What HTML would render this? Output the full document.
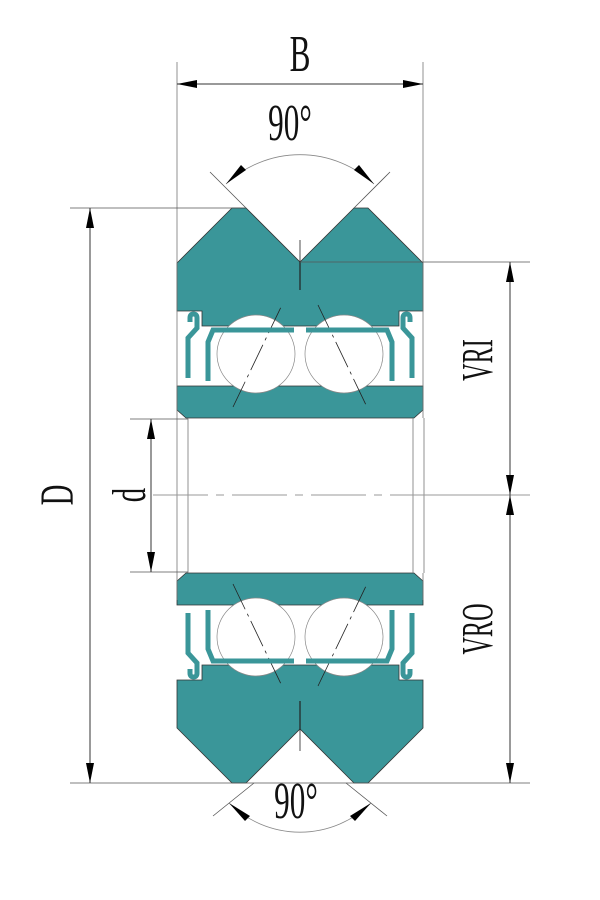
<!DOCTYPE html>
<html><head><meta charset="utf-8"><style>body{margin:0;background:#fff}svg{display:block}</style></head>
<body>
<svg width="600" height="900" viewBox="0 0 600 900" xmlns="http://www.w3.org/2000/svg">
<defs>
<marker id="a" viewBox="0 0 20 8" refX="20" refY="4" markerWidth="20" markerHeight="8" markerUnits="userSpaceOnUse" orient="auto-start-reverse"><path d="M0,0L20,4L0,8z" fill="#000"/></marker>
<g id="half">
  <path d="M232,208L246,208L300,262L354,208L368,208L423,263L423,311L399,311L399,326L202,326L202,311L177,311L177,263Z" fill="#3a9699" stroke="#333" stroke-width="0.8"/>
  <path d="M177,386L423,386L423,410L414,418L186,418L177,410Z" fill="#3a9699" stroke="#333" stroke-width="0.8"/>
  <circle cx="256" cy="354" r="39" fill="#fff" stroke="#888" stroke-width="0.7"/>
  <circle cx="344" cy="354" r="39" fill="#fff" stroke="#888" stroke-width="0.7"/>
  <path d="M233,407L282,305M318,305L367,407" stroke="#222" stroke-width="0.8" stroke-dasharray="28,5,3,5" fill="none"/>
  <g fill="none" stroke="#3a9699" stroke-width="5" stroke-linejoin="miter">
    <path d="M208,381L208,342L213,330L294,330"/>
    <path d="M392,381L392,342L387,330L306,330"/>
    <path d="M188,378L188,338L197,328L197,318Q197,314 193.5,314Q190,314 190,318L190,322"/>
    <path d="M412,378L412,338L403,328L403,318Q403,314 406.5,314Q410,314 410,318L410,322"/>
  </g>
  <path d="M300,262L300,240" stroke="#222" stroke-width="0.8"/>
  <path d="M300,262L300,290" stroke="#222" stroke-width="1.2"/>
</g>
</defs>
<use href="#half"/>
<use href="#half" transform="matrix(1,0,0,-1,0,991)"/>
<g stroke="#777" stroke-width="0.8" fill="none">
  <path d="M177,62L177,418M423,62L423,418M177,573L177,600M423,573L423,600"/>
  <path d="M188,418L188,573M413,418L413,573M177,418L177,573M424,418L424,573"/>
</g>
<path d="M153,495L440,495" stroke="#999" stroke-width="1" stroke-dasharray="55,8,8,8"/>
<path d="M440,495L530,495" stroke="#999" stroke-width="1"/>
<g stroke="#555" stroke-width="0.8" fill="none">
  <path d="M70,208L240,208M70,783L530,783M300,262L530,262M130,419L188,419M130,572L188,572"/>
  <path d="M210,172L246,208M390,172L354,208M213,816L254,783M387,816L346,783"/>
</g>
<g stroke="#333" stroke-width="1" fill="none">
  <path d="M177,84L423,84" marker-start="url(#a)" marker-end="url(#a)"/>
  <path d="M90,208L90,783" marker-start="url(#a)" marker-end="url(#a)"/>
  <path d="M151,419L151,572" marker-start="url(#a)" marker-end="url(#a)"/>
  <path d="M510,262L510,495" marker-start="url(#a)" marker-end="url(#a)"/>
  <path d="M510,495L510,783" marker-start="url(#a)" marker-end="url(#a)"/>
</g>
<g fill="none" stroke="#888" stroke-width="0.8">
  <path d="M226,184A108,108 0 0 1 374,184"/>
  <path d="M229,803A101,101 0 0 0 371,803"/>
</g>
<g stroke="none" fill="#000">
  <path d="M226,184L246,170L241,165Z"/><path d="M374,184L354,170L359,165Z"/>
  <path d="M229,803L250,816L245,821Z"/><path d="M371,803L350,816L355,821Z"/>
</g>
<g font-family="Liberation Serif, serif" fill="#111" text-anchor="middle">
  <text transform="translate(300,71) scale(0.6,1)" font-size="52">B</text>
  <text transform="translate(290,140) scale(0.6,1)" font-size="52">90°</text>
  <text transform="translate(296,818) scale(0.6,1)" font-size="52">90°</text>
  <text transform="translate(73,495) rotate(-90) scale(0.6,1)" font-size="48">D</text>
  <text transform="translate(145,495) rotate(-90) scale(0.6,1)" font-size="48">d</text>
  <text transform="translate(492,360) rotate(-90) scale(0.55,1)" font-size="44">VRI</text>
  <text transform="translate(492,629) rotate(-90) scale(0.55,1)" font-size="44">VRO</text>
</g>
</svg>
</body></html>
